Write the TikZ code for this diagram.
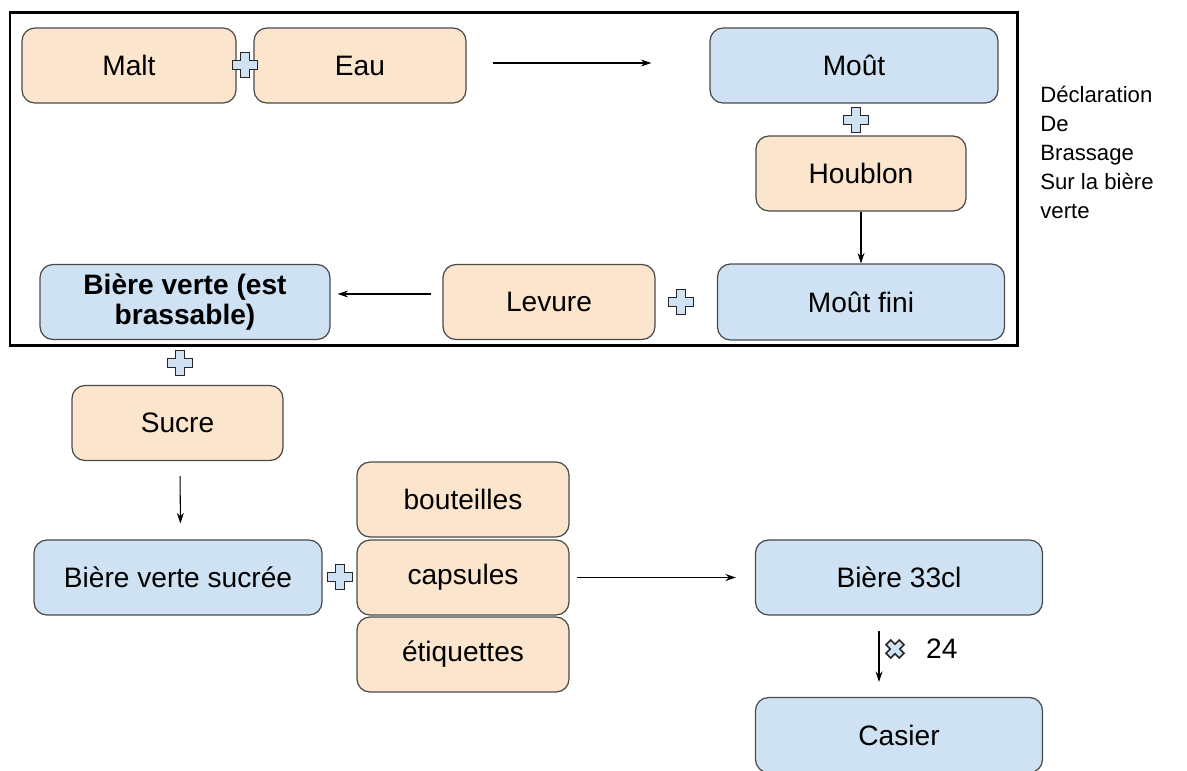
\documentclass[tikz,border=0pt]{standalone}
\usepackage{fontspec}
\setmainfont{Liberation Sans}
\usepackage{tikz}
\usetikzlibrary{arrows.meta}

\definecolor{peach}{HTML}{FCE5CD}
\definecolor{lightblue}{HTML}{CFE2F3}
\definecolor{edge}{HTML}{4A4A4A}

\tikzset{
	box/.style={draw=edge,line width=0.7pt,rounded corners=0.26cm,minimum height=1.5cm,font=\fontsize{16}{17}\selectfont,align=center},
	ingr/.style={box,fill=peach,minimum width=4.24cm},
	prod/.style={box,fill=lightblue,minimum width=5.74cm},
	fleche/.style={-{Stealth[length=6pt,width=4pt]},line width=0.6pt},
	plus/.pic={\draw[fill=lightblue,draw=black!85,line width=0.9pt]
		(-0.09,0.25) -- (0.09,0.25) -- (0.09,0.09) -- (0.25,0.09) -- (0.25,-0.09) -- (0.09,-0.09) -- (0.09,-0.25)
		-- (-0.09,-0.25) -- (-0.09,-0.09) -- (-0.25,-0.09) -- (-0.25,0.09) -- (-0.09,0.09) -- cycle;}
}

\begin{document}
\begin{tikzpicture}
		\useasboundingbox (0,0) rectangle (23.74,-15.4);
		% cadre de la declaration
		\draw[line width=1.7pt] (0.2,-0.24) rectangle (20.34,-6.9);
		% premiere ligne
		\node[ingr,minimum width=4.28cm] (malt) at (2.58,-1.31) {Malt};
		\node[ingr] (eau) at (7.20,-1.31) {Eau};
		\node[prod,minimum width=5.76cm] (mout) at (17.08,-1.31) {Moût};
		\node[ingr,minimum width=4.2cm] (houblon) at (17.22,-3.47) {Houblon};
		\node[prod,minimum height=1.52cm] (moutfini) at (17.22,-6.04) {Moût fini};
		\node[ingr] (levure) at (10.98,-6.04) {Levure};
		\node[prod,minimum width=5.8cm,font=\fontsize{16}{17}\selectfont\bfseries] (verte) at (3.70,-6.04) {Bière verte (est\\brassable)};
		% hors cadre
		\node[ingr,minimum width=4.22cm] (sucre) at (3.55,-8.46) {Sucre};
		\node[prod,minimum width=5.76cm] (sucree) at (3.56,-11.55) {Bière verte sucrée};
		\node[ingr] (bouteilles) at (9.26,-9.99) {bouteilles};
		\node[ingr] (capsules) at (9.26,-11.55) {capsules};
		\node[ingr] (etiquettes) at (9.26,-13.09) {étiquettes};
		\node[prod] (b33) at (17.98,-11.55) {Bière 33cl};
		\node[prod] (casier) at (17.98,-14.70) {Casier};
		% les plus
		\pic at (4.9,-1.3) {plus};
		\pic at (17.12,-2.4) {plus};
		\pic at (13.62,-6.04) {plus};
		\pic at (3.6,-7.26) {plus};
		\pic at (6.8,-11.54) {plus};
		\pic[rotate=45,scale=0.75] at (17.9,-12.98) {plus};
		\node[anchor=west,font=\fontsize{16}{17}\selectfont] (nb) at (18.4,-12.98) {24};
		% fleches
		\draw[fleche,shorten <=0.52cm,shorten >=1.16cm] ([yshift=0.05cm]eau.east) -- ([yshift=0.05cm]mout.west);
		\draw[fleche] (houblon.south) -- (moutfini.north);
		\draw[fleche,shorten <=0.22cm,shorten >=0.14cm] ([yshift=0.16cm]levure.west) -- ([yshift=0.16cm]verte.east);
		\draw[fleche,shorten <=0.3cm,shorten >=0.32cm] ([xshift=0.05cm]sucre.south) -- ([xshift=0.05cm]sucree.north);
		\draw[fleche,shorten <=0.14cm,shorten >=0.38cm] (capsules.east) -- (b33.west);
		\draw[fleche,shorten <=0.3cm,shorten >=0.3cm] ([xshift=-0.4cm]b33.south) -- ([xshift=-0.4cm]casier.north);
		% legende
		\node[anchor=north west,align=left,inner sep=0pt,font=\fontsize{12.6}{16.5}\selectfont] (legende) at (20.8,-1.72)
			{Déclaration\\De\\Brassage\\Sur la bière\\verte};
\end{tikzpicture}
\end{document}
